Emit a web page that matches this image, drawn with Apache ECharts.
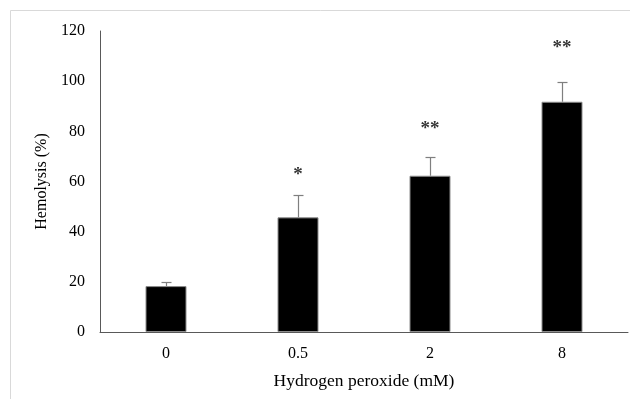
<!DOCTYPE html>
<html>
<head>
<meta charset="utf-8">
<script src="https://cdn.jsdelivr.net/npm/echarts@6/dist/echarts.min.js"></script>
<style>
  html, body { margin: 0; padding: 0; background: #fff; }
  #chart { width: 630px; height: 399px; }
</style>
</head>
<body>
<div id="chart"></div>
<script>
// Hydrogen peroxide concentrations (mM)
const doses = ['0', '0.5', '2', '8'];
// Mean hemolysis (%)
const hemolysis = [18.3, 45.7, 62.3, 91.8];
// Upper error (SD) above each mean
const errorUp = [1.8, 9.0, 7.5, 7.8];
// Significance marks and the value at which each is placed
const sigMarks = ['', '*', '**', '**'];
const sigAt = [null, 62.5, 81, 113];
// Y axis range
const yMin = 0, yMax = 120, yStep = 20;

const FONT = '"Liberation Serif", "DejaVu Serif", serif';

const chart = echarts.init(document.getElementById('chart'), null, { renderer: 'canvas' });

chart.setOption({
  animation: false,
  backgroundColor: '#fff',
  grid: { left: 100, right: 2, top: 31, bottom: 67, containLabel: false },
  graphic: [{
    type: 'rect',
    shape: { x: 10.5, y: 10.5, width: 700, height: 500 },
    style: { fill: 'none', stroke: '#d9d9d9', lineWidth: 1 },
    silent: true
  }],
  xAxis: {
    type: 'category',
    data: doses,
    name: 'Hydrogen peroxide (mM)',
    nameLocation: 'middle',
    nameGap: 40,
    nameTextStyle: { fontFamily: FONT, fontSize: 17.5, color: '#000' },
    axisLine: { lineStyle: { color: '#595959', width: 1 } },
    axisTick: { show: false },
    axisLabel: { fontFamily: FONT, fontSize: 16, color: '#000', margin: 14 }
  },
  yAxis: {
    type: 'value',
    min: yMin, max: yMax, interval: yStep,
    name: 'Hemolysis (%)',
    nameLocation: 'middle',
    nameGap: 44,
    nameTextStyle: { fontFamily: FONT, fontSize: 16, color: '#000' },
    axisLine: { show: true, lineStyle: { color: '#595959', width: 1 } },
    axisTick: { show: false },
    splitLine: { show: false },
    axisLabel: { fontFamily: FONT, fontSize: 16, color: '#000', margin: 15 }
  },
  series: [
    {
      type: 'bar',
      data: hemolysis,
      barWidth: 41,
      itemStyle: { color: '#000', borderColor: '#8c8c8c', borderWidth: 1 },
      z: 2
    },
    {
      // error bars drawn from the mean up to mean + SD
      type: 'custom',
      data: hemolysis.map((v, i) => [i, v, v + errorUp[i]]),
      renderItem: function (params, api) {
        const lo = api.coord([api.value(0), api.value(1)]);
        const hi = api.coord([api.value(0), api.value(2)]);
        const x = Math.round(lo[0]) + 0.5;
        const yTop = Math.round(hi[1]) + 0.5;
        const half = 5;
        const style = { stroke: '#7f7f7f', lineWidth: 1.2 };
        return {
          type: 'group',
          children: [
            { type: 'line', shape: { x1: x, y1: lo[1], x2: x, y2: yTop }, style },
            { type: 'line', shape: { x1: x - half, y1: yTop, x2: x + half, y2: yTop }, style }
          ]
        };
      },
      z: 3
    },
    {
      // significance asterisks
      type: 'scatter',
      symbolSize: 0,
      data: sigAt.map((v, i) => (v === null ? null : { value: [i, v], mark: sigMarks[i] })),
      label: {
        show: true,
        position: 'inside',
        formatter: p => p.data.mark,
        fontFamily: FONT,
        fontSize: 19,
        fontWeight: 'bold',
        color: '#000'
      },
      z: 4
    }
  ]
});
</script>
</body>
</html>
